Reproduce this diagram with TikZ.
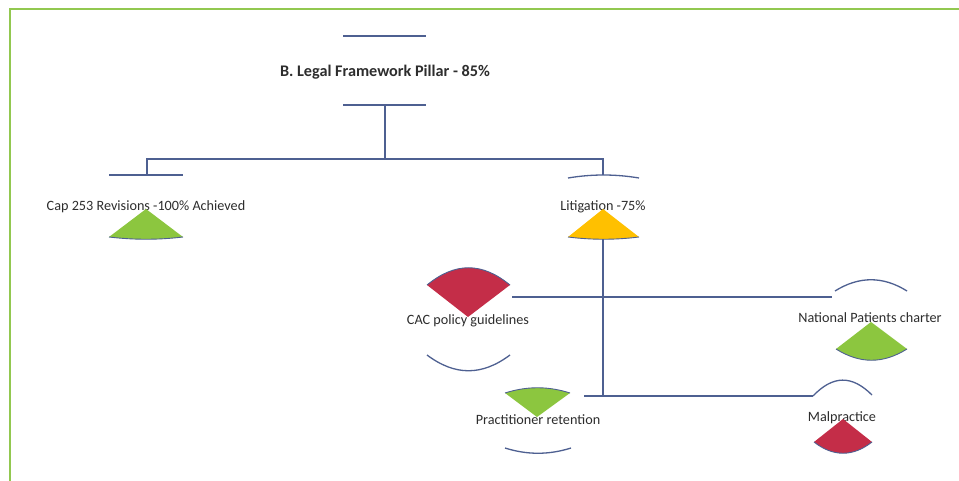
\documentclass[tikz,border=0pt]{standalone}
\usepackage{fontspec}
\setmainfont{Carlito}
\definecolor{lineblue}{RGB}{78,96,145}
\definecolor{framegreen}{RGB}{146,200,80}
\definecolor{wgreen}{RGB}{140,198,63}
\definecolor{wyellow}{RGB}{255,192,0}
\definecolor{wred}{RGB}{196,45,72}
\definecolor{txt}{RGB}{45,45,45}
\tikzset{
  conn/.style={draw=lineblue,line width=1.3pt},
  edgeline/.style={draw=lineblue,line width=0.9pt},
  lbl/.style={anchor=base,inner sep=0pt,text=txt,font=\fontsize{14.2}{16}\selectfont},
  ttl/.style={anchor=base,inner sep=0pt,text=txt,font=\fontsize{16.2}{19}\selectfont\bfseries},
}
\begin{document}
\begin{tikzpicture}[x=1pt,y=-1pt]
\useasboundingbox (0,0) rectangle (959,481);
\fill[white] (0,0) rectangle (959,481);
% frame
\draw[framegreen,line width=2pt] (10,482) -- (10,9) -- (960,9);

% title
\coordinate (ttop1) at (343,36); \coordinate (ttop2) at (426,36);
\coordinate (tbot1) at (343,105); \coordinate (tbot2) at (426,105);
\coordinate (tbm) at (385,105);
\draw[conn] (ttop1) -- (ttop2);
\draw[conn] (tbot1) -- (tbot2);
\node[ttl] (title) at (385,77) {B. Legal Framework Pillar - 85\%};

% labels
\node[lbl] (cap) at (146,211) {Cap 253 Revisions -100\% Achieved};
\node[lbl] (lit) at (603,211) {Litigation -75\%};
\node[lbl] (cac) at (468,324) {CAC policy guidelines};
\node[lbl] (npc) at (870,323) {National Patients charter};
\node[lbl] (prac) at (538,424) {Practitioner retention};
\node[lbl] (mal) at (842,421) {Malpractice};

% coordinates for connectors
\coordinate (hub) at (385,159);
\coordinate (capT) at (147,175);
\coordinate (litT) at (603,175);
\coordinate (litB) at (603,239);
\coordinate (j2) at (603,396);
\coordinate (cacR) at (512,297);
\coordinate (npL) at (832,297);
\coordinate (prR) at (584,396);
\coordinate (malL) at (813,396);

% connectors
\draw[conn] (tbm) -- (hub);
\draw[conn] (capT) |- (hub) -| (litT);
\draw[conn] (litB) -- (j2);
\draw[conn] (cacR) -- (npL);
\draw[conn] (prR) -- (malL);

% Cap 253 shape
\draw[conn] (109,175) -- (183,175);
\fill[wgreen] (146,209) -- (109,237) .. controls (134,240) and (158,240) .. (183,237) -- cycle;
\draw[edgeline] (109,237) .. controls (134,240) and (158,240) .. (183,237);

% Litigation shape
\draw[conn] (568,178) .. controls (592,174) and (615,174) .. (639,178);
\fill[wyellow] (603,209) -- (568,237) .. controls (592,240) and (615,240) .. (639,237) -- cycle;
\draw[edgeline] (568,237) .. controls (592,240) and (615,240) .. (639,237);

% CAC shape
\fill[wred] (468,317) -- (427,285) .. controls (455,262) and (482,262) .. (510,285) -- cycle;
\draw[edgeline] (427,285) .. controls (455,262) and (482,262) .. (510,285);
\draw[conn] (427,355) .. controls (455,376) and (482,376) .. (510,355);

% National Patients charter shape
\draw[conn] (835,291) .. controls (859,276) and (883,276) .. (907,291);
\fill[wgreen] (871,322) -- (836,349) .. controls (860,364) and (883,364) .. (907,349) -- cycle;
\draw[edgeline] (836,349) .. controls (860,364) and (883,364) .. (907,349);

% Practitioner retention shape
\fill[wgreen] (537,417) -- (505,393) .. controls (527,386) and (548,386) .. (570,393) -- cycle;
\draw[edgeline] (505,393) .. controls (527,386) and (548,386) .. (570,393);
\draw[conn] (505,448) .. controls (527,455) and (549,455) .. (571,448);

% Malpractice shape
\draw[conn] (malL) .. controls (833,375) and (852,375) .. (872,395);
\fill[wred] (843,419) -- (814,442) .. controls (833,457) and (853,457) .. (872,442) -- cycle;
\draw[edgeline] (814,442) .. controls (833,457) and (853,457) .. (872,442);
\end{tikzpicture}
\end{document}
